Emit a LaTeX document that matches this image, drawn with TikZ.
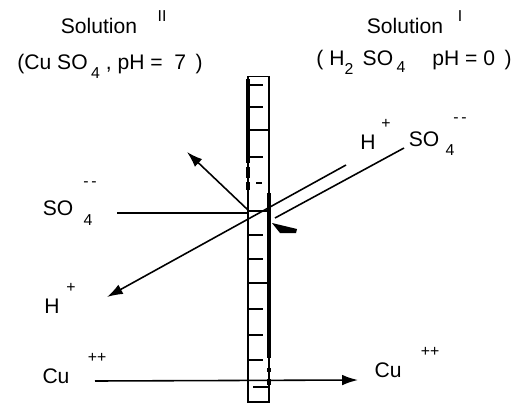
\documentclass[tikz,border=0pt]{standalone}
\usepackage{fontspec}
\setmainfont{Liberation Sans}
\usetikzlibrary{arrows.meta}

\begin{document}
\begin{tikzpicture}[x=0.02cm, y=-0.02cm,
        ion/.style={inner sep=0pt, font=\fontsize{12}{12}\selectfont},
        idx/.style={inner sep=0pt, font=\fontsize{9}{9}\selectfont},
        flow/.style={line width=0.9pt},
        tip/.style={-{Latex[length=9pt,width=6pt]}}]
        \useasboundingbox (0,0) rectangle (517,403);

        % Titols de les dues solucions
        \node[ion] (solL) at (99,26) {Solution};
        \node[idx] (supL) at (162,16) {II};
        \node[ion] (compL) at (110,66) {(Cu SO\,\raisebox{-5pt}{\small 4} , pH = \ 7 \,)};
        \node[ion] (solR) at (405,26) {Solution};
        \node[idx] (supR) at (460,16) {I};
        \node[ion] (compR) at (414,62) {( H\raisebox{-5pt}{\small 2} \,SO\,\raisebox{-4pt}{\small 4} \quad pH = 0 \,)};

        % Membrana
        \node[draw, line width=0.6pt, inner sep=0pt, minimum width=0.42cm, minimum height=6.52cm] (mem) at (258.5,239) {};
        \draw[line width=2pt] (248,79) -- (248,163);
        \draw[line width=2pt] (248,167) -- (248,178) (248,182) -- (248,190);
        \draw[line width=2pt] (269,193) -- (269,358);
        \draw[line width=2pt] (269,368) -- (269,372) (269,379) -- (269,385);
        \foreach \y in {85,107,157,235,259,309,335,360}
            \draw[line width=0.8pt] (248,\y) -- (263,\y);
        \foreach \y in {130,211,283}
            \draw[line width=0.8pt] (248,\y) -- (269,\y);
        \draw[line width=0.8pt] (256,183) -- (262,183);
        \draw[line width=0.8pt] (253,387) -- (269,387);

        % Ions de la solucio II
        \node[ion] (so4L) at (58,208) {SO};
        \node[idx] (so4Lsub) at (88,220) {4};
        \node[idx] (so4Lsup) at (90,184) {-\,-};
        \node[ion] (hL) at (52,306) {H};
        \node[idx] (hLsup) at (71,288) {+};
        \node[ion] (cuL) at (56,376) {Cu};
        \node[idx] (cuLsup) at (97,358) {++};

        % Ions de la solucio I
        \node[ion] (hR) at (368,142) {H};
        \node[idx] (hRsup) at (386,124) {+};
        \node[ion] (so4R) at (424,139) {SO};
        \node[idx] (so4Rsub) at (450,150) {4};
        \node[idx] (so4Rsup) at (460,120) {-\,-};
        \node[ion] (cuR) at (388,370) {Cu};
        \node[idx] (cuRsup) at (430,352) {++};

        % Punts dels fluxos
        \coordinate (soStart) at (117,213);
        \coordinate (cross) at (248,210);
        \coordinate (upTip) at (187,152);
        \coordinate (hStart) at (346,165);
        \coordinate (hTip) at (107,297);
        \coordinate (soRStart) at (404,148);
        \coordinate (soStop) at (275,218);
        \coordinate (cuStart) at (95,381);
        \coordinate (cuTip) at (358,380);

        % Fluxos
        \draw[flow] (soStart) -- (soStart -| mem.west);
        \draw[flow, tip] (cross) -- (upTip);
        \draw[flow, tip] (hStart) -- (hTip);
        \draw[flow] (soRStart) -- (soStop);
        \fill (272,223) -- (297,229) -- (296,233) -- (280,233) -- cycle;
        \draw[flow, tip] (cuStart) -- (cuTip);
\end{tikzpicture}
\end{document}
